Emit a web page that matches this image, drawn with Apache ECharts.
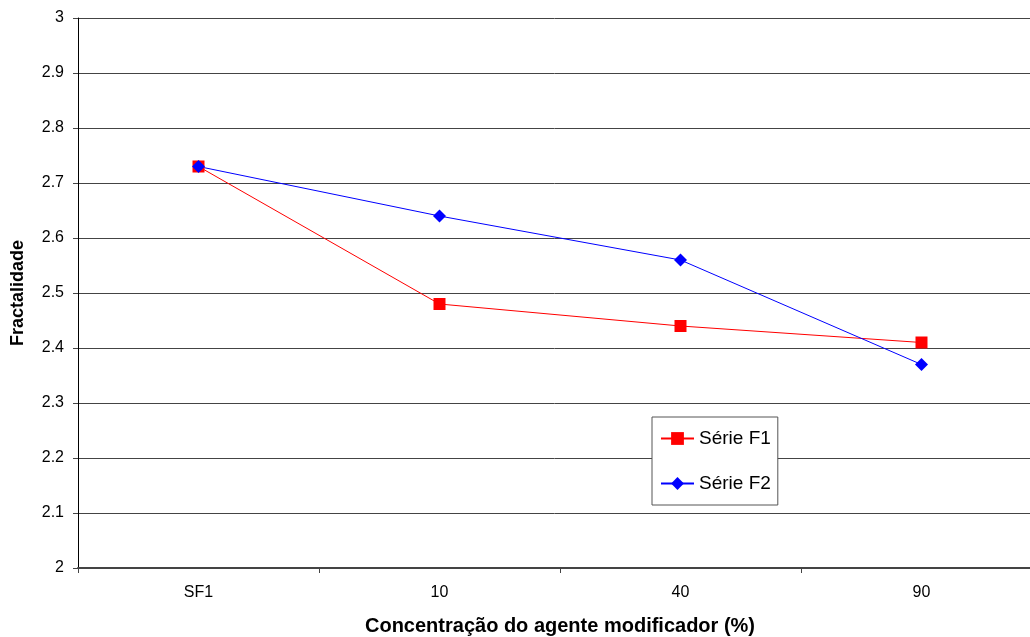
<!DOCTYPE html>
<html>
<head>
<meta charset="utf-8">
<script src="https://cdn.jsdelivr.net/npm/echarts@6/dist/echarts.min.js"></script>
<style>
html, body { margin: 0; padding: 0; background: #fff; }
#chart { width: 1030px; height: 637px; }
</style>
</head>
<body>
<div id="chart"></div>
<script>
// dados
var categorias = ['SF1', '10', '40', '90'];
var serieF1 = [2.73, 2.48, 2.44, 2.41];
var serieF2 = [2.73, 2.64, 2.56, 2.37];

var myChart = echarts.init(document.getElementById('chart'));
var fonte = 'Liberation Sans, Arial, sans-serif';
var option = {
    animation: false,
    backgroundColor: '#fff',
    grid: {
        left: 78,
        right: -12,
        top: 18,
        bottom: 69,
        containLabel: false,
        outerBoundsMode: 'none'
    },
    legend: {
        orient: 'vertical',
        left: 652,
        top: 417,
        itemWidth: 33,
        itemHeight: 16,
        itemGap: 26,
        padding: [12, 7, 12, 8],
        backgroundColor: '#fff',
        borderColor: '#555',
        borderWidth: 1,
        textStyle: { fontFamily: fonte, fontSize: 19, color: '#000' },
        data: ['Série F1', 'Série F2']
    },
    xAxis: {
        type: 'category',
        data: categorias,
        boundaryGap: true,
        name: 'Concentração do agente modificador (%)',
        nameLocation: 'middle',
        nameGap: 48,
        nameTextStyle: { fontFamily: fonte, fontSize: 20, fontWeight: 'bold', color: '#000' },
        axisLine: { lineStyle: { color: '#444', width: 2 } },
        axisTick: { show: true, length: 5, lineStyle: { color: '#444' } },
        axisLabel: { fontFamily: fonte, fontSize: 16, color: '#000', margin: 17 },
        splitLine: { show: false }
    },
    yAxis: {
        type: 'value',
        min: 2,
        max: 3,
        interval: 0.1,
        name: 'Fractalidade',
        nameLocation: 'middle',
        nameGap: 51,
        nameTextStyle: { fontFamily: fonte, fontSize: 18, fontWeight: 'bold', color: '#000' },
        axisLine: { show: true, lineStyle: { color: '#000', width: 1 } },
        axisTick: { show: true, length: 5, lineStyle: { color: '#444' } },
        axisLabel: {
            fontFamily: fonte, fontSize: 16, color: '#000', margin: 14,
            formatter: function (v) { return String(Math.round(v * 10) / 10); }
        },
        splitLine: { show: true, lineStyle: { color: '#444', width: 1 } }
    },
    series: [
        {
            name: 'Série F1',
            type: 'line',
            data: serieF1,
            symbol: 'rect',
            symbolSize: 12,
            itemStyle: { color: '#ff0000' },
            lineStyle: { color: '#ff0000', width: 1 }
        },
        {
            name: 'Série F2',
            type: 'line',
            data: serieF2,
            symbol: 'diamond',
            symbolSize: 13,
            itemStyle: { color: '#0000ff' },
            lineStyle: { color: '#0000ff', width: 1 }
        }
    ]
};
myChart.setOption(option);
</script>
</body>
</html>
